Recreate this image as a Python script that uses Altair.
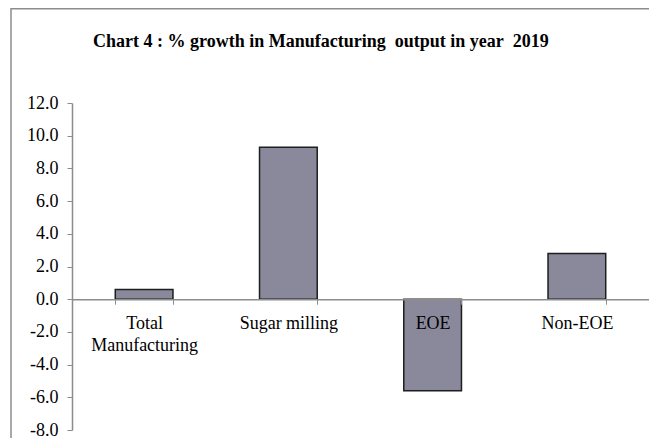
import altair as alt
import pandas as pd

categories = ["Total Manufacturing", "Sugar milling", "EOE", "Non-EOE"]
growth = [0.6, 9.3, -5.6, 2.8]
y_ticks = [-8, -6, -4, -2, 0, 2, 4, 6, 8, 10, 12]
title_text = "Chart 4 : % growth  in Manufacturing\u00a0 output  in year\u00a0 2019"

df = pd.DataFrame({"category": categories, "growth": growth})
one = pd.DataFrame({"k": [0]})

W, H = 577, 327
FONT = "Liberation Serif"
AXIS_GRAY = "#8c8c8c"
zero_off = -(H - H * 12 / 20)

bars = alt.Chart(df).mark_bar(color="#8a899c", stroke="#1e1e1e", strokeWidth=1.5).encode(
    x=alt.X(
        "category:N",
        sort=categories,
        scale=alt.Scale(paddingInner=0.6, paddingOuter=0.3),
        axis=alt.Axis(
            title=None,
            labelAngle=0,
            labelFont=FONT,
            labelFontSize=18,
            labelColor="black",
            labelPadding=10,
            labelBaseline="top",
            labelLineHeight=22,
            labelExpr="datum.label == 'Total Manufacturing' ? ['Total', 'Manufacturing'] : datum.label",
            tickSize=5,
            tickBand="extent",
            domainColor=AXIS_GRAY,
            tickColor=AXIS_GRAY,
            domainWidth=1.5,
            offset=zero_off,
            zindex=1,
        ),
    ),
    y=alt.Y(
        "growth:Q",
        scale=alt.Scale(domain=[-8, 12], nice=False, zero=False),
        axis=alt.Axis(
            title=None,
            values=y_ticks,
            grid=False,
            labelFont=FONT,
            labelFontSize=18,
            labelColor="black",
            labelPadding=9,
            tickSize=5,
            domainColor=AXIS_GRAY,
            tickColor=AXIS_GRAY,
            domainWidth=1.5,
            labelExpr="(datum.value < 0 ? '-' : '') + format(abs(datum.value), '.1f')",
        ),
    ),
)

title = alt.Chart(one).mark_text(
    text=title_text, font=FONT, fontWeight="bold", fontSize=18,
    align="left", baseline="alphabetic", color="black"
).encode(x=alt.value(21), y=alt.value(-56))

frame_top = alt.Chart(one).mark_rule(color="#8c8c8c", strokeWidth=1.5).encode(
    x=alt.value(-61), x2=alt.value(620), y=alt.value(-94.2)
)
frame_left = alt.Chart(one).mark_rule(color="#8c8c8c", strokeWidth=1.5).encode(
    x=alt.value(-61), y=alt.value(-95), y2=alt.value(H + 30)
)

chart = alt.layer(frame_top, frame_left, bars, title).properties(
    width=W,
    height=H,
    padding={"left": 64, "top": 95, "right": 0, "bottom": 8},
    autosize=alt.AutoSizeParams(type="none"),
).configure_view(stroke=None)

chart.save("out.html", embed_options={"renderer": "svg", "actions": False})
